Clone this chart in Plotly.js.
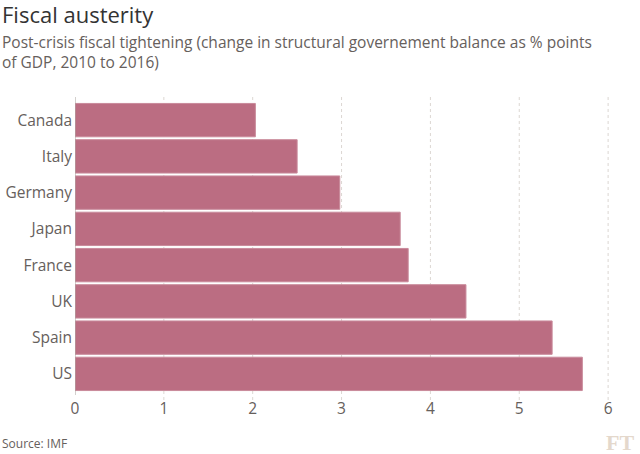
<!DOCTYPE html>
<html><head><meta charset="utf-8">
<script src="https://cdn.plot.ly/plotly-3.0.1.min.js"></script>
<style>body{margin:0;background:#fff}#chart{width:640px;height:454px}</style>
</head><body><div id="chart"></div>
<script>
const countries = ["Canada","Italy","Germany","Japan","France","UK","Spain","US"];
const tightening = [2.03, 2.50, 2.98, 3.66, 3.75, 4.40, 5.37, 5.71];
const xTicks = [0,1,2,3,4,5,6];

const trace = {
  type: "bar", orientation: "h",
  y: countries, x: tightening,
  marker: {color: "#bb6d82", line: {color: "#c98a9b", width: 1}},
  hoverinfo: "none"
};
const font = "'Open Sans', 'Noto Sans', sans-serif";
const plotH = 290, plotW = 534;
const gridShapes = xTicks.filter(v => v > 0).map(v => ({
  type: "line", xref: "x", yref: "paper", x0: v, x1: v,
  y0: -8/plotH, y1: 1 + 5/plotH, layer: "below",
  line: {color: "#dcd7d2", width: 1, dash: "dot"}
}));
gridShapes.push({
  type: "line", xref: "x", yref: "paper", x0: 0, x1: 0,
  y0: -3/plotH, y1: 1 + 5/plotH, layer: "above",
  line: {color: "#a7a19c", width: 1}
});
const layout = {
  width: 640, height: 454,
  paper_bgcolor: "#ffffff", plot_bgcolor: "#ffffff",
  margin: {l: 75, r: 31, t: 102, b: 62},
  bargap: 0.08,
  showlegend: false,
  font: {family: font, color: "#66605c"},
  xaxis: {
    range: [0, 6.01], tickvals: xTicks, ticktext: xTicks.map(String),
    showgrid: false, zeroline: false, showline: false, ticks: "",
    ticklabelstandoff: 5,
    tickfont: {size: 15.5, color: "#66605c", family: font}
  },
  yaxis: {
    autorange: "reversed", showgrid: false, zeroline: false,
    showline: false, ticks: "", ticklabelstandoff: 2,
    tickfont: {size: 15.5, color: "#66605c", family: font}
  },
  shapes: gridShapes,
  annotations: [
    {text: "Fiscal austerity", xref: "paper", yref: "paper", x: -75/plotW, y: 1 + (102-14)/plotH,
     xanchor: "left", yanchor: "middle", showarrow: false,
     font: {size: 22, color: "#333", family: font}},
    {text: "Post-crisis fiscal tightening (change in structural governement balance as % points<br>of GDP, 2010 to 2016)",
     xref: "paper", yref: "paper", x: -75/plotW, y: 1 + (102-52)/plotH, align: "left",
     xanchor: "left", yanchor: "middle", showarrow: false,
     font: {size: 15.5, color: "#66605c", family: font}},
    {text: "Source: IMF", xref: "paper", yref: "paper", x: -75/plotW, y: -(443-392)/plotH,
     xanchor: "left", yanchor: "middle", showarrow: false,
     font: {size: 12, color: "#66605c", family: font}},
    {text: "FT", xref: "paper", yref: "paper", x: 1 + 27/plotW, y: -(442-392)/plotH,
     xanchor: "right", yanchor: "middle", showarrow: false,
     font: {size: 22, color: "#e4d8cc", family: "'Liberation Serif', serif", weight: "bold"}}
  ]
};
Plotly.newPlot("chart", [trace], layout, {staticPlot: true});
</script></body></html>
